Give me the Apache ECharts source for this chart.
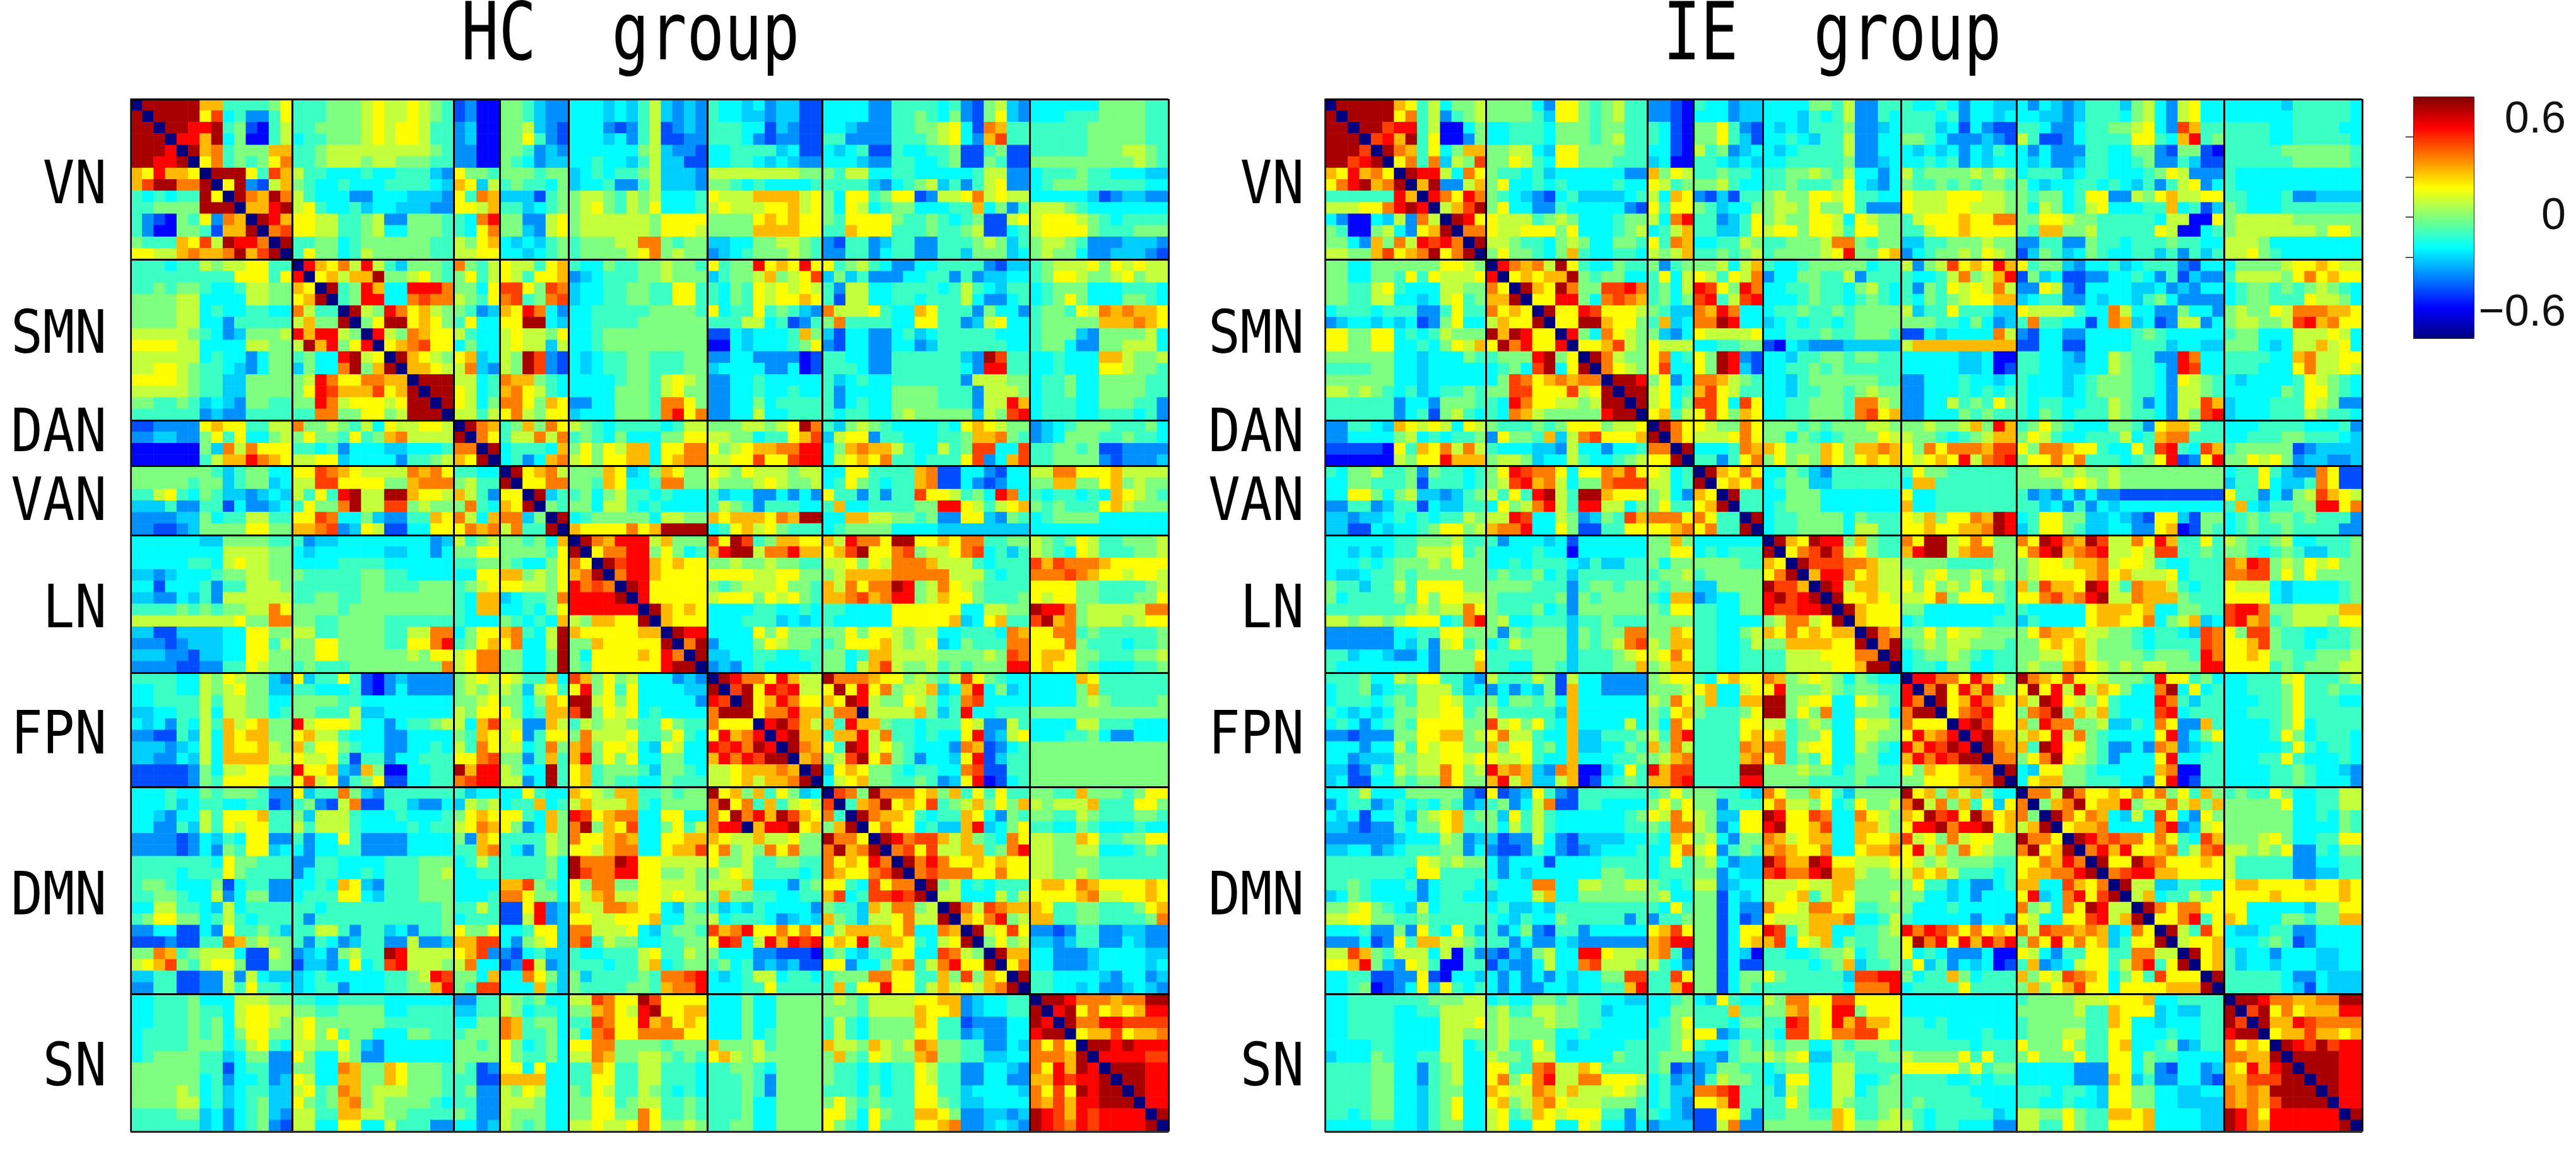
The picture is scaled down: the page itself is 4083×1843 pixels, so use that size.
<!DOCTYPE html>
<html>
<head>
<meta charset="utf-8">
<title>HC group / IE group</title>
<script src="https://cdn.jsdelivr.net/npm/echarts@6/dist/echarts.min.js"></script>
<style>
html, body { margin: 0; background: #fff; }
#chart { width: 4083px; height: 1843px; }
</style>
</head>
<body>
<div id="chart"></div>
<script>
const blockNames = ['VN', 'SMN', 'DAN', 'VAN', 'LN', 'FPN', 'DMN', 'SN'];
const blockSizes = [14, 14, 4, 6, 12, 10, 18, 12];
const colorbarTicks = [-0.6, 0, 0.6];

// colour steps, a = darkest blue ... o = darkest red
const stepCodes = 'abcdefghijklmno';
const stepValues = [-0.75, -0.56, -0.45, -0.35, -0.26, -0.19, -0.1, 0, 0.1, 0.19, 0.29, 0.38, 0.47, 0.56, 0.69];

// upper triangle, one string per row from the diagonal on, split at the network borders
const hcRows = [
  'aoooookkgggghj ggghhhijiijihg cdbb hhgedd fffefegieded gffefdeecc ffffddggggfgdchied ffffffhhhhgg',
  'aoooojmfgddgj ggghhhijiijihg cdbb hhgedd fffefegieded gffeedeecc ffffddgghgfhdchjed fffggghhhhgg',
  'aoonnoghcbgi gghhhhijijjigg deb hhiedc fffdcdgicded gggffcedcc ffedddgghhijfclkgg ggggghhhhhgg',
  'annkofhbbgi fgghhhijijjigg debb hhjgdc fffefdgiccdd gggfdcddcc ggddddggghijfdkmgg ggggghhhhhgg',
  'aoklghhhkk gghiiiiiiiiihg ddbb hhgded ffffffhieddc ffggggefcc fefgccgffgghccghcc ggggghhhiihg',
  'ajlghghjl gghiiihiihhhgg ddbb hgfdee ffgffegieecc ffggfefedd fffeddggffghcchgcc hhhhhhhhhihg',
  'aooojgmk iggfffgffggged jhhg hhhghh efgfgghieeed iiiiiiiihh hgiiffggfffffgiidd fggghggfffee',
  'ajodcik hgffgfffggggfe kjei ghggfh effgddgieeed hhgfgffffg ggggedfghiegdgijdd fghhhgggggff',
  'aolkol igfffddfffeeed jglk eeecgh hiihgihifffg jiiikkkkij hfjjghjjcdiijlijii fffffecdeedd',
  'akkno ijgffgeffeeedd jjik ggefgh hijhgihjfffg ijiiijjkij hfjifghhfffggkfhdg iiihgfffffff',
  'aonk jjiigghiddhhhg gfln hhddij hiiiiiihjjjj hhhhjkjkjj hgjjjjhgghgfghccij ijjjihgfgggg',
  'alm jjiigghiffhhhg gfjl hhedij hiiiiiihjjji hhhhkkkkjj ggkjjjggghgghiccfg ijjjjhggghhh',
  'ao gghhfghhhhhhgg ihjk fefegh ghhhiillhghh eeffhhiihg dcggdeggddggghiheg hiihgdddeeed',
  'a gjhhfgihhhhhgg iijj ffefgh ghhhhijlhihh defghhhihg ddggdfggddggehhhef hihhfddeeedc',
  'ankjlinigehhhg lhgi jiigjk gffhgghhihhg jghhnjkjnj jghigfddffggggdcee ghiiijhjijii',
  'ajkikkohhijhg hjgi jigjjk defggghhihhh eghhikhijm ehegdddffggdgdeef ghjjihhijhii',
  'aoghnkffnnnl hhfj mmjhml effgghhggjjg gfhgjijiji gdiiffggggfgigfegg fghhhfffgggf',
  'aghnnfflmll ihgj lmghlm effgghhggjjg gfhgjijjkj gciiffggfgggifddfg fghjhfffhhgf',
  'aoihnljkih hgde kjnlfd ffggggghhhhg jfggjghgedb liiijgffkjgggdhffd ghhgjilklkkj',
  'ahjoojkjh gjff jjoofe ffgggghhhhhh gggiifgcdg hlggggffjjggdeijff ghhhhhkkklkj',
  'anihlkjj igff ijiihj ffghhhhhhhhh ccfefffgkh ecffddfgefgggggfff ghhhedhhhhif',
  'ajklmjj fhff ijiiei ffghhhhhhhhh bbfefffghj dcffddffdeggggggff ghhfddhhiiif',
  'aokjih jkef ihomdc fefgghhggghh ddffddddbc ggffddggggggedomgg ffgfffkkihhi',
  'akkji iled ihomdc fefgghhggghh effffddfbc gggfddggggggfdnngg ffgfffjjihhg',
  'aooo iifg lkkhgf ffffghhgijih ddffgfffff gefgffggggggdiiih fgghffhhhhgg',
  'aoo jifg kljigf ffffhhhgijhh ddffgffgff gdffffhhhhgggdiiih fgghffhhhhgg',
  'ao jifh lljhkj ddffhhhglljh ddffhfgggg gdfgffhhhhgggdiinK fgggffhhhggd'.replace('K', 'k'),
  'a iigi jlihjj efffhhhglnjl ddffiffggg gfggffhihhhhheihmn fgggffgggfgd',
  'aolk ghkhlj ihgfggggfgiiig hhhiihijol gehihgffffgfjkjihh defghhhggghf',
  'alj giilil ghgfhfffhhjj iihhfggjkm eijjdggfffgghkklhg defhhhgghggf',
  'ao fgggfk hjhjikkfjjll jhijkklln fhklkkigffighmmffml gghhghccdddd',
  'a fgdfkl ijhjjkkfjkll iijjmjjmnn fijkjlggfgggjmdfkm gghhhhdcddde',
  'aojkli hhhkjefhkjhh jihjiiihii ffjjggggklccffdcff iilljjjkiiii',
  'ajjll hhgkjffgllhh ihhhijihhi fgjhgfggklccfdcdff hhkkhhjkhihh',
  'aoeg ghfhiggfgfff geffddfdfd jggdgdggmjjighfnlfe gfggfgfkjihg',
  'ahg hhfiigfgffff gihgdgggff gkffgggghhnnjigijkee hghgggjkihhh',
  'ao fghhhhhhfiihh kjkkkjlkoo ffkkiihhghddjjedhg fghhhhffffff'.replace('fghhhhhhfiihh', 'fghhhhhfiihh'),
  'a fghhihhfijgh kjjjjljkoo fgjkijhgggddjkcdhg fghhhhffffe f'.replace(' f', 'f'),
  'aolknnnikhhh mjomghkkjj kinlljoojjkjllgghh ihghjigghhhi',
  'ajllnnhjhfg knooillnkk jkmojjlmhiijlmfgeg ihgfjiggghhi',
  'aomnnkjkjj hhihhihhgg iijhjilllkiiigfggg mkmlllkjjjjj',
  'alnnkjjjj jjjjiijjhh hikkkkllllliiigfggg lllmlkjjijji',
  'aonjjjjj hghiiijhhg kiljllonhiljihgggg jjjjhhgggghi',
  'anjjjjj ijjjhjijhg kklmklnnhikjjhgggh jijjhhggghhj',
  'aokjkj ffffggffgf ggffffjjjjjjffiihh onnlhiiiiill',
  'akjj fffgggefef gfffffjjjjjkefjkgg moklhiiihijj',
  'aonn ffffjhjhhh hhjhjjihiiffgggflk jjllghgggggh',
  'alo dfffhjihhg ghjjjkihijefhgggll jjjlhgggfggh',
  'ao eeffggffgg hhfgkkiiiihhhhihml jkkjhhggghhi',
  'a dedfgffffgg hhfikmihhighghhhnn jkjjhgfffggh',
  'aonlljnkii olllkjjhihgimjhgff ffffkjgggggg',
  'amojnmnii jojnjlhiikefknfhef ffffhkgggggg',
  'aojknljj kjonihhjihfglmffff ffffhihggggh',
  'ajllnkk hllaiiiikhegnffg'.replace('a', 'o'),
  'anomki kgnkkhggfgggjiddig ffffiigggfff',
  'anokk gkknilggfgffjndeij fffgghfddfff',
  'aolk jgonijhgffFdlkcdfg'.replace('F', 'f'),
  'akl himojlhgdffejncegg',
  'ao ejkjhhgfggfflmccgg',
  'a fijkhhgghgdejnbcfg',
  'amlhollkjkjkhkgjgjgk hhggkhhhghjj'.replace('amlhollkjkjkhkgjgjgk', 'amlhollljkhkgjgjg'),
  'agklojkjmghikhjhk ihiiikgggjj hh'.replace(' hh', 'h'),
  'aolkkjgfggkjfdhg hhggihggghhg',
  'ajljjfgeeknefhj ggffhgfffgff',
  'aonlmmkikhgflj iihhkjgghhjj',
  'almjmiikkghln iihhiifffghg',
  'aolnljjkjkj iihhhhgggggg',
  'almllljjljj iihhihgggggg',
  'aohifgfgg jkkjlkjjjjkj',
  'aiifffigi jjjjklijjkjk'.replace('jjjjklijjkjk', 'jjjjkliijjkj'),
  'aolimlkk kjgghhggghjk',
  'akjlnhi kkgghhgggkl'.replace('kkgghhgggkl', 'kkgghhgggghl'),
  'aoijmj ddcdggddeedd',
  'ahjhi eedeggddfedd',
  'aokk ffdddeffffee',
  'ajl ffdddeffffef',
  'ao ggffffedffde',
  'a ggffefddefed',
  'aoonlllklloo',
  'anojljkjknn',
  'aollnnmmmm',
  'ajkkmjkkl',
  'aoonionnn'.replace('aoonionnn', 'aoonon nn'.replace(' ', '')),
  'annnnmm',
  'aooonn',
  'aoonn',
  'aonn',
  'ann',
  'ao',
  'a'
];

const ieRows = [
  'aoooookjgifhhi hhhhfdjjhghigg ddcb gffdee ffffhhgiddgg gffgfdffee ffffdegggehifdjiff fffffegggggf'.replace('ffffdegggehifdjiff', 'fdfedegggehifdijff'),
  'aoooojlgidghi hhhhgejjhghigg ddcb fffdee fffegfgiddgf gggfgdffef ffeedegggfhifdijff ffffffgggggf',
  'aoomnngibbfh ffgggfhhhghhgg gfcb hhjgdc fefeggghddef gggefcfdcc ggfdd fgghijfdmkgg ggggffggggff'.replace('ggfdd fgghijfdmkgg', 'ggfddfgghhijfdmkgg'),
  'amnkogjbbdh ffgggfhhhghigg gfcb hhjgec ffgfeggiddff hhgfdddedc iggccdfggggjjgfknggh ggggffgggggf'.replace('iggccdfggggjjgfknggh', 'igccdfggggjjgfknghg'),
  'aolkgjfhkk hhiifejjhhhhgg ffcb ighdef fefggggiddff fefefdfegf fdfdddggffhhdchhcb ggggghhhhhhg',
  'ajlgleihm hhjigfjjhhhggg efbb ggfefe ffggggghddef ffgfgdfeff fefddeggffghddgecc gggggghhhhhg',
  'aonnifl j'.replace(' ', '') + ' hggfgeffffffdd khji gghggf gghhihgiffdf ighhhhihih fgggefggfffghjiddd gfffffffffff',
  'akoddik hjffgfgffffgff jigh hhigff gghggghjfedf hgghghghhg hfeffggfgfegdgijdf gfffffffffff',
  'anljnl hgfedcfgeeeefg ifkj dcecgg hihhjjijggff jiiijjjiih hghhfgjjddihjkiijj ggfffgddeeee',
  'aikmo hjffddgfffffdc jgjj hgeffh hiihjhhjgddd jiiijjiiih hfihfgijfffggkfgce hgfffggggggg',
  'aonj jiiighihfffghh ifln ggdegj hihhjjifjihh gijjjkjjll hhjjihhgggg fiibbji hiiiiihhhhhh'.replace('hhjjihhgggg fiibbji', 'hhjjihhgggggfiibbji'.slice(0, 18)),
  'all jiijjjhjfffghi fgik ggeegj ijjhjjigjjhh ggijjkjjjj hgkkhhigggggjibbfg hiiiiiiihjjh',
  'ao iihggfhihffhhg jglk ffggih gghhhillhghh eegghhhihh ddggddhggfgggghggff iiihffffffff'.replace('ddggddhggfgggghggff', 'ddggddhggfggghggff'),
  'a hjhhgfhkgffggf ihik gghghi ghhhhijnhhjk dfghhihjih cehgefhgffggegdgeg iijhgfffffff',
  'anlkliojgffhgg hdgh hhifik gffghhhhhfgg idhimjkjnk jghhedffgefgggdcff fhhhhijjkjii',
  'ajkjkkohghhff gjfi jigjil dffhhggidggg gffgilhikn chefccddffgfdgcedd giiiihjljkjj',
  'aokjolhhmmnl ghfi nmjhnl ffgghggfhigf gdhgjijilI'.replace('I', 'i') + ' ddjidcffffeefdedff fghhghghihgf',
  'ajjnnhflmlk ghfh mngimn fffghggfghgf gfhghijjkk efggddfeffeghfdddd fghhgggjiihf',
  'aojjnmjjji hgee lknlff fgghggh ghhhh igghjgggee jiiiigffliffddhffd hihhjilllkj'.replace('fgghggh ghhhh', 'fgghgghghhhh').replace('hihhjilllkj', 'hihhjilllkkj').replace('igghjgggee', 'ieggjgggee'),
  'ajjookjjh gkef llonff efgfggfghhhh hhhggh fdcde'.replace('hhhggh fdcde', 'hhhggfhfde') + ' gLggffcflkefcdiidf'.replace('L', 'l') + ' hiihhimnklkjj'.replace('hiihhimnklkjj', 'hiihhimnklj j'.replace(' ', '')),
  'anhfljih hedf jiiiij ffggghgghhhg ccfefffflI'.replace('I', 'i') + ' dcffddffffghgffFff'.replace('F', 'f') + ' ghhfffiiijif',
  'ajjkmih fjef jiiiij ffgghhhghhgf cbfeddde ik'.replace(' ', 'i').replace('cbfedddeiik', 'cbfedddeik') + ' ccffccffffgggeffee hhhfefiikijf',
  'aolihh jlfg jhonDc'.replace('D', 'd') + ' ffegghhghhgg fffffeefbb ggffedffihggddnlff ggggffklijj i'.replace('ggggffklijj i', 'ggggffkliijj'),
  'aljih jmff jhonec ffgghghggggg fffffeefbc ggffeeffihggfdnmff gggfffjliiji',
  'aoon hjdf llkihg ffeghhhhhhgg ddfffgffef gfffefghhhggfdjihg feffffgjihgf',
  'aoo ijfg kmjigg ffegghhghihh ddfffgfgfg gfffefghhhggfdiihg fffffhgjjhgf',
  'ao ijfh mmjfmj ffgghhhgllih ddffighgjh gfggffggihgdfdiimk efffgggjihdd',
  'a jkgi jmjhkj ffgghhhglmjk ddfffhghgg gfhgfgggihggfdihmn efffgggihggf',
  'aolj jihhlj hhhghghhhiih hhihhikhnk ghjhgfffhhgdjkkigg fffggggfffgd',
  'alj iiijlj hhfhgfghhhji ihhgfghikk hjigffgggifgklgg'.replace('hjigffgggifgklgg', 'hjigffggg ifgkllgg'.replace(' ', '')) + ' ffggghhgggfe',
  'ao fffglk kjhhhkjhkklk jhljlllkmm jhllkjjgffjgmngfmk ghhhhhcdeeee',
  'a ggdgjl hjhihkjhjkjk jijkjnilmn hjjljlgggfghjncdjn hhjijhdeedde',
  'aokjlj ffhgedg gjhhg hhiihihhih fggjgeddlj ccdcfdee ijljjjjllj ji'.replace(' ji', 'i').replace('fggjgeddlj ccdcfdee', 'fggjgeddljccdcfdee'),
  'ajkjl fghheeg fkkgg hhhhijihih eggjfeegljccee feee hjkkiijkkjjh'.replace('eggjfeegljccee feee', 'eggjfeegljcceefeee'),
  'aogg ffhhhff jffgg gdedfdfddc jggdfdhimkjifenlde gggggh jkiihg'.replace('gggggh jkiihg', 'ggggghjkiihg'),
  'agg fghhhff kffgg ggefdgdfef gkfegghhnnjlgjkmde ggggh hjkhhhg'.replace('ggggh hjkhhhg', 'gggghhjkhhhg'),
  'ao fgghhhhfhggg jikhjjlkon fgjjhheefedcjjechh fghghhghggd'.replace('fghghhghggd', 'fghghhghgggd'),
  'a fgghhhhfiigg jjkjjkklon egjjhgeeffddjkbchg fghgghggggg d'.replace('ggggg d', 'ggggd'),
  'aokjonnhkhgg ljoijlj hh'.replace('ljoijlj hh', 'ljooijljhh') + ' ljonlkomiilj nkggjg ihgghiffgggh'.replace('ljonlkomiilj nkggjg', 'ljonlkomiiljnkggjg'),
  'ajlmomijhgg knooiklljh h'.replace('knooiklljh h', 'knooikllhh') + ' jlnokLmniijimmgghg'.replace('L', 'l') + ' hhgfghgeeggh',
  'aommmlKkii'.replace('K', 'l') + ' hhhhggggHh'.replace('H', 'h') + ' hijjikklijjigffggg lknmhihjijhh',
  'aknnljkii ihijhhihih hijjjjkljkiiijfggg llmmhjhjhhhh',
  'aonikkii jhjhihjghg kmkkjonigllkkigfgg jiiifeffffgh'.replace('kmkkjonigllkkigfgg', 'khmkkjonigl kkigfgg'.replace(' ', '')),
  'aojjkji iijlhjjjhg jjlmklnoiilkkkhggg jjjjfeffffgh',
  'aokjjj hhfffffffg gfffffjkkkjkffhhgg mnnlhhiiiikk',
  'akjj fgffffffg egffffjkkjjlfhikef mnklghiiihjj',
  'aolk hhjhjiihhh hjlkkjiihhgfggfemI'.replace('I', 'l') + ' jhmmhggffggh',
  'alo ghihiihhhg hhjkjkihhhgfgggml jjkmhggfgggh'.replace('hhjkjkihhhgfgggml', 'hhjkjkihhhgfggggml'),
  'ao fghhihgfgg hhiijkihhhhghhhgnl jjkjhhgghhhi',
  'a fggfhhffgg hihhkljihihiihhhnn jjjjghghhhii',
  'annlljnkjh olkjmjjihhhgnjjgHf'.replace('H', 'h') + ' ffgggijggghi',
  'aloj nkn hh'.replace('aloj nkn hh', 'alojnknhh') + ' jojniniikjhffloffg'.replace('jojniniikjhffloffg', 'jojninikjhfflofjfg') + ' ffggghjgghgg',
  'aojknlkj kiOnjihjgfffnlgegg'.replace('O', 'o') + ' fffgghjgggff',
  'ajlmnjj hlmohkikgfffmnfggg ffggghjggggg',
  'anomjj khnllhhieegflJddkg'.replace('J', 'j') + ' ffffghjfgggg',
  'anokk ikjnilhgffffjndfhj ffffgjhfgggf',
  'aolk kgonjjhgddfdlkdefg fffffgjgfggf',
  'all hjlojihgdfffjnffgg fffggjgfffgf',
  'ao fejjhhgfffffklbbgg ffffgghgffed',
  'a fjkkhhgggffdjnbcgg ffffgghgfffd',
  'allioljjkjljlhjgkh ghggjhffggii',
  'ahklojkknhiilikhk hhhhhjffggii',
  'aoljlkfeifmjfdjh hhhhhhffgfhg',
  'ajkklfffflndeij hhhhhhfffffhg'.replace('fffffhg', 'ffffhg'),
  'aonlmllj ljgfmk'.replace(' ', 'k').replace('aonlmlljkljgfmk', 'aonlmllljgfmk').replace('aonlmllljgfmk', 'aonlmlljlj gfmk'.replace(' ', '')) + ' hhhijhffggjj',
  'alnknjjklgilm iihihjddgfhh',
  'aojjomljjjkj iggggg ddffgg'.replace(' iggggg ddffgg', ' igggggddffgg'),
  'almnnkkjjjj igggggddeegg',
  'aoiieegfgf'.replace('aoiieegfgf', 'aoiieeggff') + ' jkkjjjjkjjkj',
  'aikfggihj jjjjkjjjjjkj',
  'aoljlljj jjfffffehhjj',
  'ajjlngj kjfffhhghhkk',
  'aoigmj feefggddffff',
  'aijjk fffghgcdffff',
  'aojk gefdffffeeff'.replace('gefdffffeeff', 'geffdfffeeff'),
  'ajk geffefffeeff',
  'ao gggggfddfeee',
  'a gggggfecfeee',
  'aoonllkklloo',
  'amojljkkknn',
  'aokknmllll',
  'ajkkmkkjk',
  'aonmomnn',
  'aoooonn',
  'aooon',
  'aoonn',
  'aonn',
  'ann',
  'ao',
  'a'
];

const cellCount = blockSizes.reduce((a, b) => a + b, 0);
const cellNames = Array.from({ length: cellCount }, (_, i) => i);

// index of the first cell of every network
const blockStarts = [];
blockSizes.reduce((start, size) => {
  blockStarts.push(start);
  return start + size;
}, 0);

// strings back to a symmetric list of [x, y, value]
function buildCells(rows) {
  const matrix = cellNames.map(() => new Array(cellCount).fill(0));
  rows.forEach((row, r) => {
    let c = r;
    const parts = row.split(' ');
    let b = blockStarts.filter(s => s <= r).length - 1;
    parts.forEach(part => {
      const end = blockStarts[b] + blockSizes[b];
      for (let i = 0; c < end; i++, c++) {
        const code = part[Math.min(i, part.length - 1)];
        const value = stepValues[stepCodes.indexOf(code)];
        matrix[r][c] = value;
        matrix[c][r] = value;
      }
      b++;
    });
  });
  const cells = [];
  matrix.forEach((line, y) => line.forEach((v, x) => cells.push([x, y, v])));
  return cells;
}

const matrixAxis = {
  type: 'category',
  data: cellNames,
  z: 5,
  axisLine: { show: true, lineStyle: { color: '#333', width: 2 } },
  axisTick: { show: false },
  axisLabel: { show: false },
  splitLine: {
    show: true,
    interval: index => blockStarts.includes(index),
    lineStyle: { color: '#000', width: 3 }
  }
};

function sideText(text, x, y) {
  return {
    type: 'text',
    x: x,
    y: y,
    scaleY: 1.13,
    style: {
      text: text,
      fill: '#000',
      font: '84px "DejaVu Sans Mono"',
      textAlign: 'right',
      textVerticalAlign: 'middle'
    }
  };
}

function titleText(text, x) {
  return {
    type: 'text',
    x: x,
    y: 61,
    scaleY: 1.27,
    style: {
      text: text,
      fill: '#000',
      font: '99px "DejaVu Sans Mono"',
      textAlign: 'left',
      textVerticalAlign: 'middle'
    }
  };
}

const labelCentres = [297, 534, 690, 799, 969, 1169, 1424, 1695];

const chart = echarts.init(document.getElementById('chart'));
chart.setOption({
  backgroundColor: '#fff',
  animation: false,
  grid: [
    { left: 207, top: 157, width: 1645, height: 1636 },
    { left: 2100, top: 157, width: 1644, height: 1636 },
    { left: 3825, top: 153, width: 95, height: 382 }
  ],
  xAxis: [
    { ...matrixAxis, gridIndex: 0 },
    { ...matrixAxis, gridIndex: 1 },
    { type: 'value', gridIndex: 2, show: false }
  ],
  yAxis: [
    { ...matrixAxis, gridIndex: 0, inverse: true },
    { ...matrixAxis, gridIndex: 1, inverse: true },
    {
      type: 'value',
      gridIndex: 2,
      position: 'right',
      min: -0.75,
      max: 0.75,
      z: 6,
      axisLine: { show: false },
      splitLine: { show: false },
      axisTick: {
        show: true,
        inside: true,
        length: 12,
        customValues: [-0.25, 0, 0.25, 0.5],
        lineStyle: { color: '#555', width: 2 }
      },
      axisLabel: {
        customValues: colorbarTicks,
        formatter: v => (v < 0 ? '\u2212' : '') + Math.abs(v),
        align: 'right',
        margin: 147,
        fontSize: 70,
        color: '#111',
        fontFamily: 'Liberation Sans'
      }
    }
  ],
  visualMap: {
    type: 'continuous',
    seriesIndex: [0, 1],
    min: -0.75,
    max: 0.75,
    left: 3825,
    top: 153,
    itemWidth: 95,
    itemHeight: 382,
    padding: 0,
    calculable: false,
    hoverLink: false,
    borderColor: '#222',
    borderWidth: 2,
    inRange: {
      color: ['#00007f', '#0000ff', '#007fff', '#00ffff', '#7fff7f', '#ffff00', '#ff7f00', '#ff0000', '#7f0000']
    }
  },
  graphic: [
    titleText('HC  group', 731),
    titleText('IE  group', 2636),
    ...blockNames.map((name, i) => sideText(name, 169, labelCentres[i])),
    ...blockNames.map((name, i) => sideText(name, 2067, labelCentres[i]))
  ],
  series: [
    {
      type: 'heatmap',
      name: 'HC group',
      xAxisIndex: 0,
      yAxisIndex: 0,
      data: buildCells(hcRows),
      progressive: 0
    },
    {
      type: 'heatmap',
      name: 'IE group',
      xAxisIndex: 1,
      yAxisIndex: 1,
      data: buildCells(ieRows),
      progressive: 0
    }
  ]
});
</script>
</body>
</html>
